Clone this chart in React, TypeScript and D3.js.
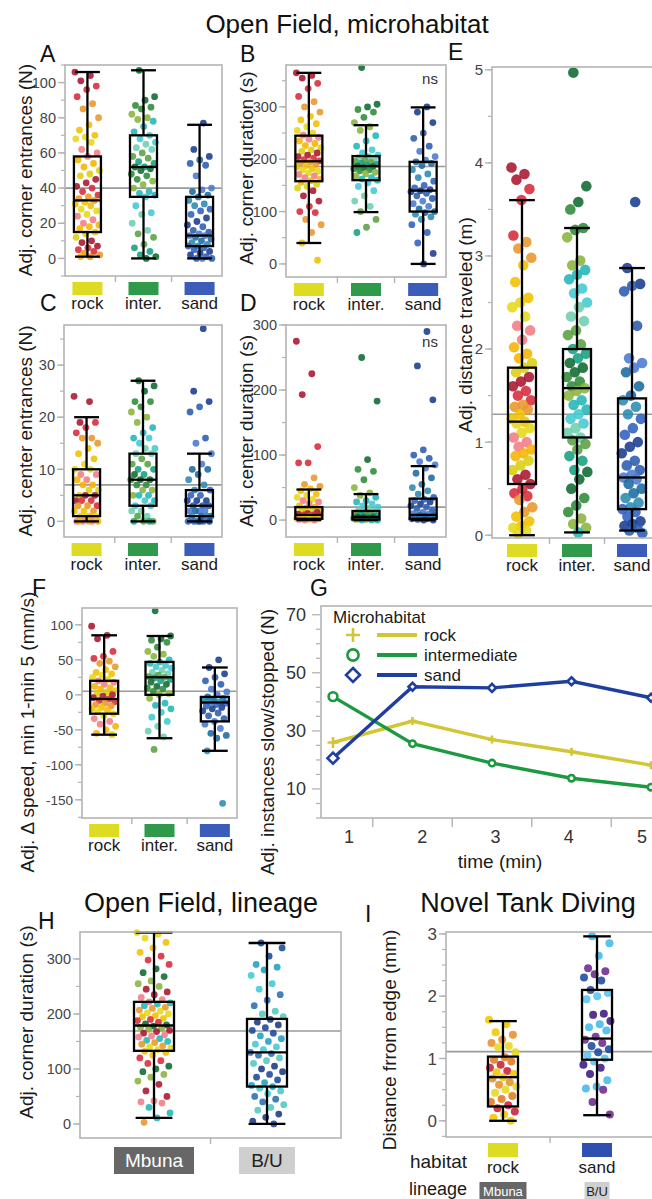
import * as d3 from "d3";
import React from "react";

const FONT = "'Liberation Sans', Arial, Helvetica, sans-serif";

// categories
const habitats = ["rock", "inter.", "sand"];
const habitatColors = ["#dedc22", "#2f9a4a", "#3b5cb8"];
const lineages = ["Mbuna", "B/U"];
const tankHabitats = ["rock", "sand"];
const tankColors = ["#dedc22", "#2f50b0"];

// species colours used for the dots of each group
const rockDots = ["#a8162e", "#d82a3a", "#e8962a", "#f0c000", "#e6d818", "#f27c86", "#f4b400", "#dccf10"];
const interDots = ["#0e6a30", "#2e8b3a", "#8ab43a", "#22b6b8", "#42c8d2", "#6ccfb0", "#5aa040", "#14a07e"];
const sandDots = ["#1a3c90", "#2a5cb0", "#4a7ad0", "#1a6aa0", "#2a8ab0", "#3060c0"];
const mbunaDots = ["#e6d818", "#f0c000", "#d82a3a", "#0e6a30", "#8ab43a", "#a8162e", "#f27c86", "#22b6b8", "#e8962a"];
const buDots = ["#1a4a9a", "#20a0c0", "#42c8d2", "#2a70b0", "#50c8c0", "#1a3a80"];
const tankRockDots = ["#f0c800", "#e8902a", "#e6d820", "#e07a20", "#c8203a"];
const tankSandDots = ["#44b8ea", "#6a2a90", "#1a4aa0", "#58c4f0", "#3a1a80"];

// box stats: [low whisker, q1, median, q3, high whisker]

// A: corner entrances
const aRock = [106, 104, 101, 98, 96, 92, 88, 85, 80, 76, 73, 70, 69, 68, 66, 62, 60, 58, 56, 54, 52, 50, 48, 47, 45, 43, 41, 40, 38, 36, 35, 34, 33, 32, 31, 30, 28, 27, 25, 24, 22, 20, 19, 18, 17, 15, 14, 12, 10, 9, 7, 6, 5, 4, 3, 2, 1, 1];
const aInter = [107, 92, 90, 87, 86, 85, 82, 80, 79, 78, 75, 72, 70, 68, 66, 65, 63, 62, 60, 58, 57, 55, 54, 52, 52, 51, 50, 48, 47, 45, 44, 42, 40, 38, 37, 36, 35, 30, 26, 25, 20, 16, 14, 12, 8, 6, 4, 2, 1, 0];
const aSand = [77, 62, 58, 56, 54, 53, 47, 40, 39, 38, 36, 35, 33, 31, 30, 28, 27, 25, 23, 21, 19, 18, 16, 15, 14, 13, 13, 12, 11, 10, 9, 8, 7, 7, 6, 5, 4, 3, 2, 1, 0, 0, 0];
const aBoxes = [[1, 15, 33, 58, 106], [0, 35, 52, 70, 107], [0, 7, 13, 35, 76]];
const aMean = 40;

// B: corner duration
const bRock = [365, 360, 355, 345, 335, 320, 310, 300, 290, 282, 275, 268, 262, 255, 250, 246, 242, 238, 235, 230, 226, 222, 218, 215, 212, 208, 205, 202, 199, 197, 195, 193, 190, 188, 185, 182, 180, 177, 174, 171, 168, 165, 162, 159, 156, 152, 148, 145, 140, 130, 120, 110, 100, 98, 85, 75, 60, 40, 7];
const bInter = [375, 305, 300, 295, 290, 280, 270, 262, 255, 245, 235, 225, 218, 212, 208, 205, 203, 200, 198, 196, 194, 192, 190, 188, 187, 186, 184, 182, 180, 178, 175, 172, 168, 165, 162, 160, 155, 148, 140, 130, 120, 110, 100, 85, 70, 60];
const bSand = [300, 290, 270, 250, 240, 225, 215, 205, 198, 195, 192, 188, 180, 172, 165, 158, 150, 145, 142, 140, 138, 135, 130, 125, 120, 115, 110, 105, 100, 98, 95, 90, 85, 75, 60, 40, 20, 0];
const bBoxes = [[40, 158, 196, 245, 365], [99, 160, 187, 206, 265], [0, 100, 140, 195, 299]];
const bMean = 186;

// C: center entrances
const cRock = [24, 23, 19, 19, 18, 17, 16, 16, 15, 14, 13, 12, 11, 10, 10, 9, 9, 8, 8, 7, 7, 6, 6, 5, 5, 5, 4, 4, 4, 3, 3, 3, 2, 2, 2, 1, 1, 1, 1, 0, 0, 0, 0, 0, 0];
const cInter = [27, 26, 25, 23, 23, 22, 21, 20, 19, 18, 17, 16, 16, 15, 14, 14, 13, 13, 12, 11, 11, 10, 10, 9, 9, 8, 8, 8, 7, 7, 6, 6, 5, 5, 5, 4, 4, 3, 3, 2, 2, 1, 1, 0, 0, 0, 0];
const cSand = [37, 25, 23, 22, 21, 16, 15, 13, 11, 10, 10, 9, 8, 7, 6, 6, 5, 5, 4, 4, 4, 3, 3, 3, 2, 2, 2, 2, 1, 1, 1, 1, 0, 0, 0, 0, 0, 0];
const cBoxes = [[0, 1, 5, 10, 20], [0, 3, 8, 13, 27], [0, 1, 3, 6, 13]];
const cMean = 7;

// D: center duration
const dRock = [275, 225, 193, 113, 88, 88, 65, 55, 52, 48, 45, 40, 38, 35, 32, 30, 28, 25, 22, 20, 18, 16, 15, 14, 12, 10, 9, 8, 8, 7, 6, 5, 5, 4, 3, 3, 2, 2, 1, 1, 0, 0];
const dInter = [250, 183, 93, 78, 75, 62, 50, 42, 38, 35, 30, 28, 25, 22, 20, 18, 15, 14, 12, 10, 9, 8, 7, 6, 5, 5, 4, 3, 3, 2, 2, 1, 1, 0, 0, 0];
const dSand = [290, 237, 185, 108, 100, 95, 90, 85, 80, 72, 65, 55, 50, 45, 40, 35, 32, 30, 28, 25, 22, 20, 18, 15, 12, 10, 9, 8, 7, 6, 5, 4, 3, 2, 2, 1, 0, 0];
const dBoxes = [[0, 2, 8, 20, 47], [0, 1, 5, 14, 40], [0, 2, 8, 33, 83]];
const dMean = 20;

// E: distance traveled
const eRock = [3.95, 3.88, 3.82, 3.72, 3.6, 3.22, 3.15, 3.08, 2.98, 2.9, 2.72, 2.55, 2.5, 2.45, 2.35, 2.25, 2.2, 2.1, 2.02, 1.95, 1.9, 1.85, 1.8, 1.75, 1.7, 1.65, 1.6, 1.55, 1.5, 1.45, 1.4, 1.38, 1.35, 1.3, 1.25, 1.22, 1.2, 1.15, 1.1, 1.05, 1.0, 0.95, 0.92, 0.88, 0.85, 0.8, 0.75, 0.7, 0.65, 0.6, 0.55, 0.5, 0.45, 0.42, 0.38, 0.3, 0.25, 0.2, 0.15, 0.1, 0.08, 0.05, 0.02];
const eInter = [4.97, 3.75, 3.58, 3.5, 3.3, 3.28, 3.2, 2.95, 2.9, 2.85, 2.8, 2.75, 2.65, 2.6, 2.5, 2.45, 2.35, 2.3, 2.2, 2.15, 2.05, 2.0, 1.95, 1.9, 1.85, 1.8, 1.75, 1.7, 1.65, 1.6, 1.58, 1.55, 1.5, 1.45, 1.4, 1.35, 1.3, 1.25, 1.2, 1.15, 1.1, 1.05, 1.02, 0.98, 0.92, 0.85, 0.8, 0.7, 0.68, 0.6, 0.5, 0.4, 0.32, 0.25, 0.18, 0.12, 0.08, 0.03];
const eSand = [3.58, 2.87, 2.7, 2.68, 2.62, 2.25, 1.9, 1.85, 1.8, 1.75, 1.6, 1.5, 1.45, 1.38, 1.3, 1.25, 1.15, 1.08, 1.0, 0.95, 0.88, 0.8, 0.75, 0.7, 0.65, 0.62, 0.6, 0.55, 0.5, 0.45, 0.4, 0.35, 0.3, 0.28, 0.25, 0.2, 0.15, 0.12, 0.1, 0.08, 0.05, 0.02];
const eBoxes = [[0, 0.55, 1.22, 1.8, 3.6], [0.03, 1.05, 1.58, 2.0, 3.3], [0.05, 0.28, 0.62, 1.47, 2.87]];
const eMean = 1.3;

// F: change in speed
const fRock = [98, 85, 80, 62, 55, 52, 48, 45, 40, 36, 32, 30, 28, 25, 22, 20, 18, 15, 12, 10, 8, 6, 4, 2, 0, -2, -4, -6, -8, -10, -12, -14, -16, -18, -20, -22, -24, -27, -30, -34, -38, -42, -45, -50, -55, -57];
const fInter = [120, 84, 80, 78, 75, 68, 62, 58, 55, 50, 47, 45, 42, 40, 38, 35, 32, 30, 28, 26, 25, 24, 22, 20, 18, 15, 12, 10, 8, 5, 2, 0, -5, -12, -15, -20, -25, -32, -38, -45, -52, -60, -78];
const fSand = [50, 39, 30, 25, 20, 15, 8, 4, 0, -3, -5, -7, -9, -10, -11, -12, -14, -16, -18, -20, -23, -26, -30, -34, -38, -42, -48, -55, -58, -62, -80, -155];
const fBoxes = [[-57, -27, -6, 20, 85], [-62, 0, 25, 47, 84], [-80, -38, -11, -3, 39]];
const fMean = 5;

// G: instances slow/stopped per minute
const minutes = [1, 2, 3, 4, 5];
const gRock = [26, 33.4, 27, 22.8, 18.2];
const gInter = [41.8, 25.6, 18.9, 13.7, 10.6];
const gSand = [20.6, 45.2, 44.8, 47.1, 41.4];

// H: corner duration by lineage
const hMbuna = [348, 345, 338, 330, 320, 312, 305, 298, 290, 282, 275, 268, 260, 255, 250, 245, 240, 235, 230, 226, 222, 220, 218, 215, 212, 210, 207, 205, 202, 200, 197, 195, 192, 190, 188, 185, 182, 180, 178, 176, 174, 172, 170, 168, 165, 162, 160, 158, 155, 152, 150, 148, 145, 142, 140, 138, 135, 132, 130, 125, 120, 115, 110, 105, 100, 95, 90, 85, 78, 72, 60, 50, 42, 40, 38, 30, 20, 11, 3];
const hBU = [329, 320, 305, 290, 285, 280, 270, 255, 245, 235, 225, 215, 205, 200, 195, 190, 185, 180, 175, 170, 165, 160, 155, 150, 145, 140, 135, 130, 128, 125, 120, 115, 110, 105, 100, 95, 90, 85, 80, 75, 70, 68, 65, 60, 55, 50, 45, 40, 35, 30, 25, 18, 12, 5, 0];
const hBoxes = [[11, 133, 179, 222, 348], [0, 68, 130, 191, 329]];
const hMean = 169;

// I: novel tank, distance from edge
const iRock = [1.62, 1.55, 1.42, 1.38, 1.3, 1.25, 1.2, 1.18, 1.1, 1.02, 0.98, 0.95, 0.9, 0.85, 0.8, 0.78, 0.75, 0.7, 0.68, 0.62, 0.58, 0.55, 0.5, 0.45, 0.4, 0.35, 0.3, 0.25, 0.2, 0.15, 0.1, 0.05, 0.0];
const iSand = [2.96, 2.85, 2.65, 2.45, 2.4, 2.35, 2.3, 2.25, 2.1, 2.05, 2.0, 1.95, 1.72, 1.7, 1.6, 1.55, 1.5, 1.45, 1.35, 1.3, 1.25, 1.2, 1.15, 1.1, 1.05, 1.0, 0.95, 0.9, 0.85, 0.75, 0.65, 0.55, 0.52, 0.5, 0.3, 0.1];
const iBoxes = [[0, 0.23, 0.7, 1.03, 1.6], [0.09, 0.98, 1.32, 2.1, 2.96]];
const iMean = 1.11;

type Frame = { x0: number; x1: number; y0: number; y1: number };

const FRAME = "#b4b4b4";

// spread points sideways without randomness
const jitter = (i: number) => ((i * 0.6180339887) % 1) - 0.5;

function BoxPanel(p: {
  frame: Frame;
  domain: [number, number];
  ticks: number[];
  minorStep: number;
  cats: string[];
  groups: number[][];
  boxes: number[][];
  palettes: string[][];
  mean: number;
  pad: number;
  boxW: number;
  r: number;
  spread: number;
  tickFont: number;
  footer?: (x: d3.ScalePoint<string>, f: Frame) => React.ReactNode;
}) {
  const f = p.frame;
  const y = d3.scaleLinear().domain(p.domain).range([f.y1, f.y0]);
  const x = d3.scalePoint<string>().domain(p.cats).range([f.x0, f.x1]).padding(p.pad);
  const step = x.step();
  const minor = d3
    .range(Math.ceil(p.domain[0] / p.minorStep), Math.floor(p.domain[1] / p.minorStep) + 1)
    .map((k) => +(k * p.minorStep).toFixed(4));

  return (
    <g>
      {minor.map((v) => (
        <line key={"m" + v} x1={f.x0 - 4} x2={f.x0} y1={y(v)} y2={y(v)} stroke={FRAME} strokeWidth={1.2} />
      ))}
      {p.ticks.map((v) => (
        <g key={"t" + v}>
          <line x1={f.x0 - 7} x2={f.x0} y1={y(v)} y2={y(v)} stroke={FRAME} strokeWidth={1.4} />
          <text x={f.x0 - 9} y={y(v)} dy="0.36em" textAnchor="end" fontSize={p.tickFont} fill="#444">
            {v}
          </text>
        </g>
      ))}
      {p.cats.slice(1).map((c) => (
        <line key={"x" + c} x1={x(c)! - step / 2} x2={x(c)! - step / 2} y1={f.y1} y2={f.y1 + 6} stroke={FRAME} strokeWidth={1.4} />
      ))}
      <line x1={f.x0} x2={f.x1} y1={y(p.mean)} y2={y(p.mean)} stroke="#9a9a9a" strokeWidth={1.6} />
      {p.groups.map((vals, gi) =>
        vals.map((v, i) => (
          <circle
            key={gi + "-" + i}
            cx={x(p.cats[gi])! + jitter(i + gi * 7) * p.spread}
            cy={y(v)}
            r={p.r}
            fill={p.palettes[gi][Math.floor(i / 3) % p.palettes[gi].length]}
            opacity={0.88}
          />
        ))
      )}
      {p.boxes.map(([lo, q1, med, q3, hi], gi) => {
        const cx = x(p.cats[gi])!;
        const hw = p.boxW / 2;
        const cw = hw * 0.92;
        return (
          <g key={"b" + gi} stroke="#000" strokeWidth={2.3} fill="none">
            <line x1={cx} x2={cx} y1={y(lo)} y2={y(q1)} />
            <line x1={cx} x2={cx} y1={y(q3)} y2={y(hi)} />
            <line x1={cx - cw} x2={cx + cw} y1={y(lo)} y2={y(lo)} />
            <line x1={cx - cw} x2={cx + cw} y1={y(hi)} y2={y(hi)} />
            <rect x={cx - hw} y={y(q3)} width={p.boxW} height={y(q1) - y(q3)} />
            <line x1={cx - hw} x2={cx + hw} y1={y(med)} y2={y(med)} />
          </g>
        );
      })}
      <rect x={f.x0} y={f.y0} width={f.x1 - f.x0} height={f.y1 - f.y0} fill="none" stroke={FRAME} strokeWidth={1.6} />
      {p.footer && p.footer(x, f)}
    </g>
  );
}

const swatchFooter = (x: d3.ScalePoint<string>, f: Frame) =>
  habitats.map((c, i) => (
    <g key={c}>
      <rect x={x(c)! - 15} y={f.y1 + 6} width={30} height={13} fill={habitatColors[i]} />
      <text x={x(c)!} y={f.y1 + 33} textAnchor="middle" fontSize={17} fill="#1a1a1a">
        {c}
      </text>
    </g>
  ));

const lineageFooter = (x: d3.ScalePoint<string>, f: Frame) =>
  lineages.map((c, i) => {
    const w = 12 * c.length + 20;
    return (
      <g key={c}>
        <rect x={x(c)! - w / 2} y={f.y1 + 9} width={w} height={27} fill={i === 0 ? "#676767" : "#cfcfcf"} />
        <text x={x(c)!} y={f.y1 + 29} textAnchor="middle" fontSize={19} fill={i === 0 ? "#fff" : "#222"}>
          {c}
        </text>
      </g>
    );
  });

const tankFooter = (x: d3.ScalePoint<string>, f: Frame) => (
  <g>
    <text x={f.x0 + 21} y={f.y1 + 31} textAnchor="end" fontSize={19} fill="#1a1a1a">habitat</text>
    <text x={f.x0 + 21} y={f.y1 + 58} textAnchor="end" fontSize={18} fill="#1a1a1a">lineage</text>
    {tankHabitats.map((c, i) => {
      const w = 11 * lineages[i].length - 8;
      return (
        <g key={c}>
          <rect x={x(c)! - 15} y={f.y1 + 6} width={30} height={14} fill={tankColors[i]} />
          <text x={x(c)!} y={f.y1 + 36} textAnchor="middle" fontSize={17} fill="#1a1a1a">
            {c}
          </text>
          <rect x={x(c)! - w / 2} y={f.y1 + 45} width={w} height={17} fill={i === 0 ? "#676767" : "#cfcfcf"} />
          <text x={x(c)!} y={f.y1 + 58.5} textAnchor="middle" fontSize={13} fill={i === 0 ? "#fff" : "#222"}>
            {lineages[i]}
          </text>
        </g>
      );
    })}
  </g>
);

const YTitle = ({ x, y, text, size = 19 }: { x: number; y: number; text: string; size?: number }) => (
  <text transform={`translate(${x},${y}) rotate(-90)`} textAnchor="middle" fontSize={size} fill="#1a1a1a">
    {text}
  </text>
);

const Letter = ({ x, y, t }: { x: number; y: number; t: string }) => (
  <text x={x} y={y} fontSize={23} fill="#111">
    {t}
  </text>
);

function TimePanel() {
  const f: Frame = { x0: 321, x1: 680, y0: 606, y1: 818 };
  const y = d3.scaleLinear().domain([0, 73]).range([f.y1, f.y0]);
  const x = d3.scaleLinear().domain([1, 5]).range([333, 651]);
  const xLab = d3.scaleLinear().domain([1, 5]).range([349, 642]);
  const line = d3
    .line<number>()
    .x((_, i) => x(minutes[i]))
    .y((d) => y(d));
  const series = [
    { name: "rock", vals: gRock, color: "#d2c635", mark: "plus" },
    { name: "intermediate", vals: gInter, color: "#1c9a40", mark: "circle" },
    { name: "sand", vals: gSand, color: "#1f3fa0", mark: "diamond" },
  ];
  const marker = (m: string, color: string, s: number) =>
    m === "plus" ? (
      <path d={`M${-s},0H${s}M0,${-s}V${s}`} stroke={color} strokeWidth={2.6} fill="none" />
    ) : m === "circle" ? (
      <circle r={s * 0.8} stroke={color} strokeWidth={2.6} fill="#fff" />
    ) : (
      <path d={`M0,${-s}L${s},0L0,${s}L${-s},0Z`} stroke={color} strokeWidth={2.6} fill="#fff" />
    );
  return (
    <g>
      {d3.range(0, 74, 5).map((v) => (
        <line key={"m" + v} x1={f.x0 - (v % 20 === 10 ? 9 : 5)} x2={f.x0 - 1} y1={y(v)} y2={y(v)} stroke={FRAME} strokeWidth={1.3} />
      ))}
      {[10, 30, 50, 70].map((v) => (
        <text key={v} x={f.x0 - 15} y={y(v)} dy="0.36em" textAnchor="end" fontSize={18} fill="#333">
          {v}
        </text>
      ))}
      {minutes.slice(1).map((m) => (
        <line key={"x" + m} x1={x(m - 0.5)} x2={x(m - 0.5)} y1={f.y1} y2={f.y1 + 9} stroke={FRAME} strokeWidth={1.4} />
      ))}
      {minutes.map((m) => (
        <text key={"l" + m} x={xLab(m)} y={f.y1 + 25} textAnchor="middle" fontSize={18} fill="#333">
          {m}
        </text>
      ))}
      <text x={500} y={f.y1 + 50} textAnchor="middle" fontSize={19} fill="#1a1a1a">
        time (min)
      </text>
      <rect x={f.x0} y={f.y0} width={f.x1 - f.x0} height={f.y1 - f.y0} fill="none" stroke={FRAME} strokeWidth={1.6} />
      {series.map((s) => (
        <g key={s.name}>
          <path d={line(s.vals)!} fill="none" stroke={s.color} strokeWidth={3.4} />
          {s.vals.map((v, i) => (
            <g key={i} transform={`translate(${x(minutes[i])},${y(v)})`}>
              {marker(s.mark, s.color, i === 0 ? 5.5 : 4)}
            </g>
          ))}
        </g>
      ))}
      <text x={333} y={623} fontSize={17} fill="#1a1a1a">Microhabitat</text>
      {series.map((s, i) => (
        <g key={"lg" + s.name} transform={`translate(0,${635 + i * 20})`}>
          <g transform="translate(353,0)">{marker(s.mark, s.color, 7)}</g>
          <line x1={377} x2={417} y1={0} y2={0} stroke={s.color} strokeWidth={4} />
          <text x={424} y={6} fontSize={17} fill="#1a1a1a">
            {s.name}
          </text>
        </g>
      ))}
    </g>
  );
}

export default function App() {
  return (
    <svg
      width={652}
      height={1199}
      style={{ position: "absolute", left: 0, top: 0, background: "#fff", fontFamily: FONT }}
    >
      <text x={347} y={33} textAnchor="middle" fontSize={26} fill="#111">
        Open Field, microhabitat
      </text>

      <Letter x={40} y={62} t="A" />
      <YTitle x={32} y={170} text="Adj. corner entrances (N)" />
      <BoxPanel
        frame={{ x0: 65, x1: 222, y0: 65, y1: 276 }}
        domain={[-10, 110]}
        ticks={[0, 20, 40, 60, 80, 100]}
        minorStep={10}
        cats={habitats}
        groups={[aRock, aInter, aSand]}
        boxes={aBoxes}
        palettes={[rockDots, interDots, sandDots]}
        mean={aMean}
        pad={0.4}
        boxW={27}
        r={3.4}
        spread={25}
        tickFont={14.5}
        footer={swatchFooter}
      />

      <Letter x={240} y={62} t="B" />
      <YTitle x={253} y={168} text="Adj. corner duration (s)" />
      <BoxPanel
        frame={{ x0: 286, x1: 446, y0: 65, y1: 277 }}
        domain={[-25, 380]}
        ticks={[0, 100, 200, 300]}
        minorStep={50}
        cats={habitats}
        groups={[bRock, bInter, bSand]}
        boxes={bBoxes}
        palettes={[rockDots, interDots, sandDots]}
        mean={bMean}
        pad={0.4}
        boxW={27}
        r={3.4}
        spread={25}
        tickFont={14.5}
        footer={swatchFooter}
      />
      <text x={430} y={84} textAnchor="middle" fontSize={15} fill="#333">ns</text>

      <Letter x={40} y={311} t="C" />
      <YTitle x={32} y={431} text="Adj. center entrances (N)" />
      <BoxPanel
        frame={{ x0: 64, x1: 222, y0: 325, y1: 537 }}
        domain={[-3, 37.7]}
        ticks={[0, 10, 20, 30]}
        minorStep={5}
        cats={habitats}
        groups={[cRock, cInter, cSand]}
        boxes={cBoxes}
        palettes={[rockDots, interDots, sandDots]}
        mean={cMean}
        pad={0.4}
        boxW={27}
        r={3.4}
        spread={25}
        tickFont={14.5}
        footer={swatchFooter}
      />

      <Letter x={240} y={311} t="D" />
      <YTitle x={253} y={431} text="Adj. center duration (s)" />
      <BoxPanel
        frame={{ x0: 286, x1: 446, y0: 325, y1: 537 }}
        domain={[-26, 300]}
        ticks={[0, 100, 200, 300]}
        minorStep={50}
        cats={habitats}
        groups={[dRock, dInter, dSand]}
        boxes={dBoxes}
        palettes={[rockDots, interDots, sandDots]}
        mean={dMean}
        pad={0.4}
        boxW={27}
        r={3.4}
        spread={25}
        tickFont={14.5}
        footer={swatchFooter}
      />
      <text x={430} y={347} textAnchor="middle" fontSize={15} fill="#333">ns</text>

      <Letter x={448} y={60} t="E" />
      <YTitle x={472} y={325} text="Adj. distance traveled (m)" />
      <BoxPanel
        frame={{ x0: 492, x1: 662, y0: 67, y1: 538 }}
        domain={[-0.03, 5.03]}
        ticks={[0, 1, 2, 3, 4, 5]}
        minorStep={0.5}
        cats={habitats}
        groups={[eRock, eInter, eSand]}
        boxes={eBoxes}
        palettes={[rockDots, interDots, sandDots]}
        mean={eMean}
        pad={0.545}
        boxW={28}
        r={5.3}
        spread={21}
        tickFont={15}
        footer={swatchFooter}
      />

      <Letter x={32} y={596} t="F" />
      <YTitle x={34} y={732} text="Adj. Δ speed, min 1-min 5 (mm/s)" />
      <BoxPanel
        frame={{ x0: 82, x1: 237, y0: 608, y1: 818 }}
        domain={[-176, 124]}
        ticks={[-150, -100, -50, 0, 50, 100]}
        minorStep={25}
        cats={habitats}
        groups={[fRock, fInter, fSand]}
        boxes={fBoxes}
        palettes={[rockDots, interDots, sandDots]}
        mean={fMean}
        pad={0.4}
        boxW={28}
        r={3.4}
        spread={25}
        tickFont={13.5}
        footer={swatchFooter}
      />

      <Letter x={310} y={596} t="G" />
      <YTitle x={274} y={742} text="Adj. instances slow/stopped (N)" />
      <TimePanel />

      <text x={201} y={912} textAnchor="middle" fontSize={27} fill="#111">
        Open Field, lineage
      </text>
      <Letter x={38} y={929} t="H" />
      <YTitle x={33} y={1022} text="Adj. corner duration (s)" />
      <BoxPanel
        frame={{ x0: 80, x1: 341, y0: 932, y1: 1138 }}
        domain={[-25.5, 349]}
        ticks={[0, 100, 200, 300]}
        minorStep={50}
        cats={lineages}
        groups={[hMbuna, hBU]}
        boxes={hBoxes}
        palettes={[mbunaDots, buDots]}
        mean={hMean}
        pad={0.655}
        boxW={40}
        r={3.4}
        spread={34}
        tickFont={14.5}
        footer={lineageFooter}
      />

      <text x={528} y={912} textAnchor="middle" fontSize={27} fill="#111">
        Novel Tank Diving
      </text>
      <Letter x={365} y={922} t="I" />
      <YTitle x={396} y={1040} text="Distance frrom edge (mm)" />
      <BoxPanel
        frame={{ x0: 446, x1: 654, y0: 932, y1: 1137 }}
        domain={[-0.26, 3.03]}
        ticks={[0, 1, 2, 3]}
        minorStep={0.25}
        cats={tankHabitats}
        groups={[iRock, iSand]}
        boxes={iBoxes}
        palettes={[tankRockDots, tankSandDots]}
        mean={iMean}
        pad={0.606}
        boxW={30}
        r={4}
        spread={28}
        tickFont={17}
        footer={tankFooter}
      />
    </svg>
  );
}
